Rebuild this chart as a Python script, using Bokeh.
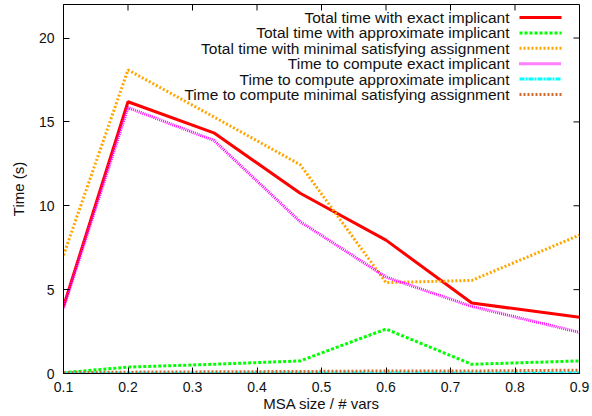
import math
from bokeh.plotting import figure
from bokeh.models import Range1d, FixedTicker, Label, Arrow
from bokeh.embed import file_html
from bokeh.resources import INLINE

# ---- data ----
msa_size = [0.1, 0.2, 0.333, 0.467, 0.6, 0.733, 0.9]
total_exact = [4.0, 16.2, 14.35, 10.75, 7.95, 4.2, 3.35]
total_approx = [0.05, 0.38, 0.55, 0.75, 2.65, 0.55, 0.75]
total_msa = [7.05, 18.1, 15.3, 12.45, 5.42, 5.55, 8.25]
compute_exact = [3.9, 15.85, 13.9, 9.05, 5.75, 4.0, 2.45]
compute_approx = [0.01, 0.02, 0.02, 0.03, 0.03, 0.03, 0.04]
compute_msa = [0.05, 0.08, 0.1, 0.12, 0.15, 0.15, 0.2]

series_labels = [
    "Total time with exact implicant",
    "Total time with approximate implicant",
    "Total time with minimal satisfying assignment",
    "Time to compute exact implicant",
    "Time to compute approximate implicant",
    "Time to compute minimal satisfying assignment",
]
series_values = [total_exact, total_approx, total_msa, compute_exact, compute_approx, compute_msa]

x_ticks = [0.1, 0.2, 0.3, 0.4, 0.5, 0.6, 0.7, 0.8, 0.9]
y_ticks = [0, 5, 10, 15, 20]
x_min, x_max = 0.1, 0.9
y_min, y_max = 0, 22

x_title = "MSA size / # vars"
y_title = "Time (s)"

# ---- styles ----
colors = ["#ff0000", "#00ff00", "#ffa500", "#ff00ff", "#00ffff", "#cd6a2e"]
dashes = ["solid", "3 2", "2 2", "1 1", "5 1 2 1", "2 2"]
widths = [3, 3, 3, 3, 3, 3]
FONT = "Liberation Sans"
TXT = "#111111"

p = figure(width=592, height=416,
           x_range=Range1d(x_min, x_max), y_range=Range1d(y_min, y_max),
           output_backend="svg", toolbar_location=None,
           min_border_left=63, min_border_right=13,
           min_border_top=4, min_border_bottom=43)
p.grid.visible = False
p.outline_line_color = "black"
p.outline_line_width = 1
p.background_fill_color = "white"
p.border_fill_color = "white"

for vals, c, d, w in zip(series_values, colors, dashes, widths):
    p.line(msa_size, vals, line_color=c, line_dash=d, line_width=w)

for ax in (p.xaxis[0], p.yaxis[0]):
    ax.major_tick_in = 6
    ax.major_tick_out = 0
    ax.minor_tick_line_color = None
    ax.axis_line_color = "black"
    ax.major_tick_line_color = "black"
    ax.major_label_text_font = FONT
    ax.major_label_text_font_size = "14px"
    ax.major_label_text_color = TXT
    ax.axis_label_text_font = FONT
    ax.axis_label_text_font_size = "15px"
    ax.axis_label_text_font_style = "normal"
    ax.axis_label_text_color = TXT

p.xaxis.ticker = FixedTicker(ticks=x_ticks)
p.yaxis.ticker = FixedTicker(ticks=y_ticks)
p.xaxis.axis_label = x_title
p.yaxis.axis_label = y_title
p.xaxis.major_label_standoff = 8
p.xaxis.axis_label_standoff = 0
p.yaxis.major_label_standoff = 9
p.yaxis.axis_label_standoff = 9

# mirrored inward ticks on top and right border
p.ray(x=x_ticks, y=[y_max] * len(x_ticks), length=6, length_units="screen",
      angle=-math.pi / 2, line_color="black", line_width=1)
p.ray(x=[x_max] * len(y_ticks), y=y_ticks, length=6, length_units="screen",
      angle=math.pi, line_color="black", line_width=1)

# gnuplot-style key: right-aligned text, sample line to the right
row_top = 356
row_gap = 15.4
for i, (lab, c, d, w) in enumerate(zip(series_labels, colors, dashes, widths)):
    yy = row_top - i * row_gap
    p.add_layout(Label(x=446, y=yy, x_units="screen", y_units="screen", text=lab,
                       text_align="right", text_baseline="middle",
                       text_font=FONT, text_font_size="15.5px", text_color=TXT))
    p.add_layout(Arrow(x_start=456, y_start=yy, x_end=498, y_end=yy,
                       start_units="screen", end_units="screen", start=None, end=None,
                       line_color=c, line_dash=d, line_width=w))

open("out.html", "w").write(file_html(p, INLINE))
